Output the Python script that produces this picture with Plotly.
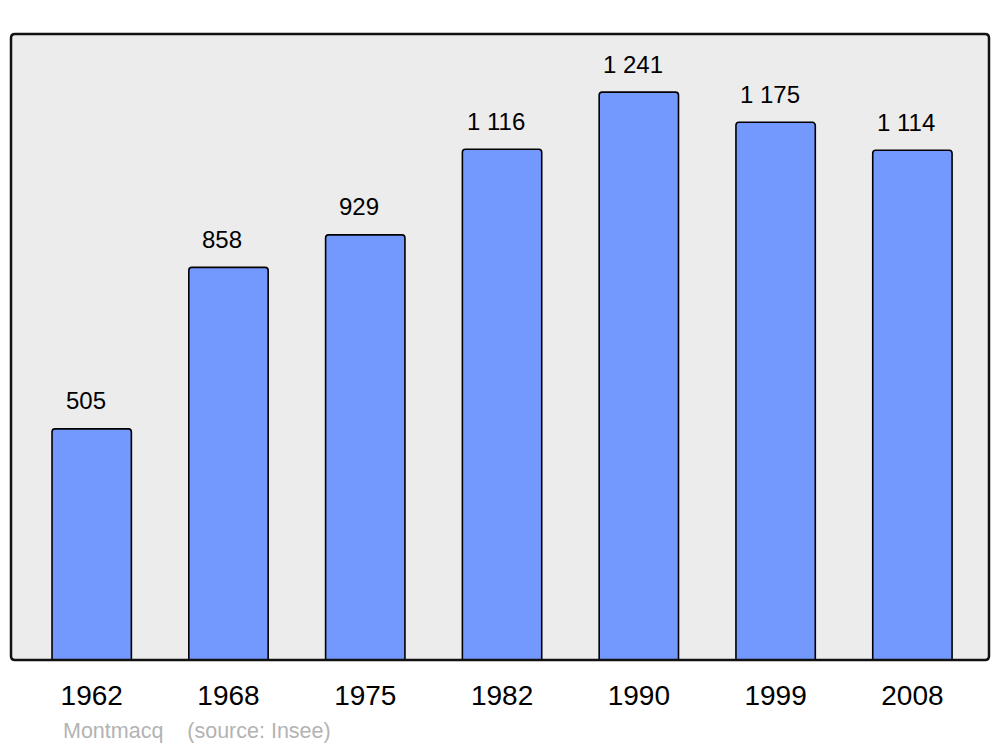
import plotly.graph_objects as go

years = ["1962", "1968", "1975", "1982", "1990", "1999", "2008"]
population = [505, 858, 929, 1116, 1241, 1175, 1114]
labels = ["505", "858", "929", "1 116", "1 241", "1 175", "1 114"]

fig = go.Figure()
fig.add_trace(go.Bar(
    x=years,
    y=population,
    width=0.58,
    marker=dict(color="#7399ff", line=dict(color="#000000", width=1.6)),
    hoverinfo="x+y",
))

# category axis: place labels by index
for i, (val, lab) in enumerate(zip(population, labels)):
    fig.add_annotation(
        x=i, y=val, text=lab, showarrow=False,
        yanchor="middle", yshift=28, xshift=-6,
        font=dict(family="Liberation Sans, Arial", size=24, color="#000000"),
    )

fig.add_annotation(
    xref="paper", yref="paper", x=0.051, y=-0.113, xanchor="left", yanchor="middle",
    text="Montmacq&nbsp;&nbsp;&nbsp;&nbsp;(source: Insee)", showarrow=False,
    font=dict(family="Liberation Sans, Arial", size=21.5, color="#b3b3b3"),
)

# frame with slightly rounded corners
rx, ry = 4 / 978, 4 / 626
frame = (f"M {rx},0 L {1 - rx},0 Q 1,0 1,{ry} L 1,{1 - ry} Q 1,1 {1 - rx},1 "
         f"L {rx},1 Q 0,1 0,{1 - ry} L 0,{ry} Q 0,0 {rx},0 Z")
fig.add_shape(type="path", xref="paper", yref="paper", path=frame,
              line=dict(color="#111111", width=2.5), layer="above")

fig.update_layout(
    width=1000, height=747,
    margin=dict(l=11, r=11, t=34, b=87),
    paper_bgcolor="#ffffff",
    plot_bgcolor="#ececec",
    barcornerradius=3,
    showlegend=False,
    xaxis=dict(
        type="category", range=[-0.59, 6.56],
        tickfont=dict(family="Liberation Sans, Arial", size=28, color="#000000"),
        ticks="", showgrid=False, zeroline=False, showline=False,
        ticklabelstandoff=16,
    ),
    yaxis=dict(
        range=[0, 1368], showticklabels=False, showgrid=False,
        zeroline=False, showline=False, ticks="",
    ),
)

fig.write_html("out.html", config={"displayModeBar": False},
               post_script="document.body.style.margin='0';")
